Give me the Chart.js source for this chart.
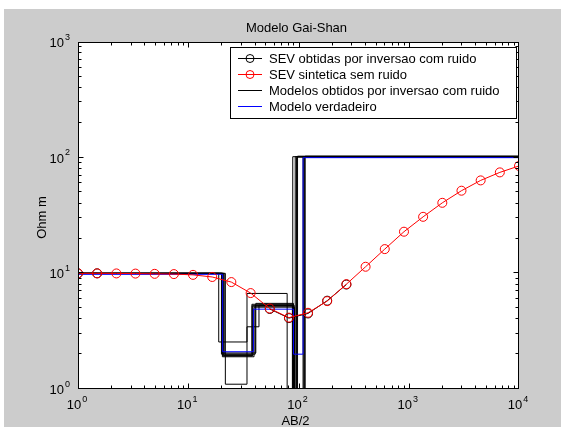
<!DOCTYPE html>
<html>
<head>
<meta charset="utf-8">
<script src="https://cdn.jsdelivr.net/npm/chart.js@4.4.1/dist/chart.umd.min.js"></script>
<style>
  html, body { margin: 0; padding: 0; background: #fff; }
  canvas { display: block; }
</style>
</head>
<body>
<canvas id="grafico" width="564" height="427"></canvas>
<script>
// espaçamentos AB/2 das sondagens
const abDois = [1, 1.49, 2.23, 3.32, 4.96, 7.41, 11.05, 16.5, 24.6, 36.8, 54.9, 81.9,
  122, 182, 272, 406, 606, 905, 1350, 2016, 3008, 4490, 6700, 10000];

// SEV sintetica sem ruido
const sevSintetica = [10.0, 10.0, 9.98, 9.95, 9.9, 9.85, 9.7, 9.3, 8.4, 6.75, 4.96, 4.14,
  4.56, 5.75, 8.06, 11.4, 16.2, 22.9, 30.8, 40.7, 51.8, 63.6, 74.6, 84.8];

// SEV obtidas por inversao com ruido (so alguns pontos visiveis)
const sevRuido = [10.0, 10.0, null, null, null, null, null, null, null, null, 4.92, 4.1,
  4.5, 5.8, 8.0, null, null, null, null, null, null, null, null, null];

// modelo verdadeiro: profundidades das interfaces e resistividades das camadas
const profVerdadeiro = [20.5, 39, 90, 110];
const rhoVerdadeiro = [9.8, 2.1, 4.9, 2.0, 100];

// modelos obtidos por inversao com ruido
const profModelos = [
  [21.7, 34.1, 78.9, 88.7],
  [18.9, 34.1, 43.8, 91, 96],
  [20.0, 37.8, 88, 93.4],
  [20.8, 38.5, 89.5, 98],
  [21.2, 40.5, 91, 110],
  [20.4, 39.5, 92, 113],
  [20.2, 41, 90, 112],
  [20.6, 38, 89, 115]
];
const rhoModelos = [
  [10, 1.1, 6.7, 0.4, 102],
  [10, 2.55, 3.45, 5.3, 0.5, 101],
  [10, 2.0, 5.4, 0.3, 102],
  [10, 1.95, 5.2, 0.5, 103],
  [10, 2.0, 5.3, 0.2, 102],
  [10, 1.9, 5.1, 0.6, 101],
  [10, 2.05, 5.5, 0.35, 102],
  [10, 1.93, 5.25, 0.8, 103]
];

const rotulosLegenda = [
  'SEV obtidas por inversao com ruido',
  'SEV sintetica sem ruido',
  'Modelos obtidos por inversao com ruido',
  'Modelo verdadeiro'
];

const FONTE = '"Liberation Sans", Arial, sans-serif';

function pontosModelo(prof, rho) {
  const pts = [{ x: 1, y: rho[0] }];
  for (let i = 0; i < prof.length; i++) {
    pts.push({ x: prof[i], y: rho[i + 1] });
  }
  pts.push({ x: 10000, y: rho[rho.length - 1] });
  return pts;
}

function pontosSev(valores) {
  return abDois.map((x, i) => ({ x: x, y: valores[i] }));
}

const datasets = [];

// vermelho por cima de tudo
datasets.push({
  label: rotulosLegenda[1],
  data: pontosSev(sevSintetica),
  borderColor: '#ff0000',
  borderWidth: 1,
  pointStyle: 'circle',
  pointRadius: 4.5,
  pointBorderWidth: 1,
  pointBorderColor: '#ff0000',
  pointBackgroundColor: 'rgba(0,0,0,0)',
  order: 0
});

datasets.push({
  label: rotulosLegenda[0],
  data: pontosSev(sevRuido),
  borderColor: '#000000',
  borderWidth: 1,
  pointRadius: 4.5,
  pointBorderWidth: 1,
  pointBorderColor: '#000000',
  pointBackgroundColor: 'rgba(0,0,0,0)',
  spanGaps: false,
  order: 1
});

datasets.push({
  label: rotulosLegenda[3],
  data: pontosModelo(profVerdadeiro, rhoVerdadeiro),
  borderColor: '#0000ff',
  borderWidth: 1,
  pointRadius: 0,
  stepped: 'before',
  order: 2
});

profModelos.forEach((prof, i) => {
  datasets.push({
    label: rotulosLegenda[2],
    data: pontosModelo(prof, rhoModelos[i]),
    borderColor: '#000000',
    borderWidth: 1,
    pointRadius: 0,
    stepped: 'before',
    order: 3
  });
});

function rotuloPotencia(ctx, exp, x, yBase, alinhar) {
  ctx.font = '13px ' + FONTE;
  const wBase = ctx.measureText('10').width;
  ctx.font = '9px ' + FONTE;
  const wExp = ctx.measureText(String(exp)).width;
  const total = wBase + 1 + wExp;
  let x0;
  if (alinhar === 'centro') x0 = x - total / 2 - 1;
  else x0 = x - total;
  ctx.textAlign = 'left';
  ctx.font = '13px ' + FONTE;
  ctx.fillText('10', x0, yBase);
  ctx.font = '9px ' + FONTE;
  ctx.fillText(String(exp), x0 + wBase + 1, yBase - 7.5);
}

const estiloMatlab = {
  id: 'estiloMatlab',
  beforeDraw(chart) {
    const ctx = chart.ctx;
    const a = chart.chartArea;
    ctx.save();
    ctx.fillStyle = '#ffffff';
    ctx.fillRect(0, 0, chart.width, chart.height);
    ctx.fillStyle = '#cccccc';
    ctx.fillRect(4, 9, 557, chart.height - 9);
    ctx.fillStyle = '#ffffff';
    ctx.fillRect(a.left, a.top, a.right - a.left, a.bottom - a.top);
    ctx.restore();
  },
  afterDraw(chart) {
    const ctx = chart.ctx;
    const a = chart.chartArea;
    const xs = chart.scales.x;
    const ys = chart.scales.y;
    const L = a.left + 0.5, R = a.right - 0.5, T = a.top + 0.5, B = a.bottom - 0.5;
    ctx.save();
    ctx.strokeStyle = '#000';
    ctx.lineWidth = 1;
    ctx.strokeRect(L, T, R - L, B - T);

    // ticks para dentro, nos quatro lados
    ctx.beginPath();
    for (let e = 0; e <= 4; e++) {
      for (let m = 1; m <= 9; m++) {
        const v = m * Math.pow(10, e);
        if (v > 10000) break;
        let px = Math.round(xs.getPixelForValue(v)) + 0.5;
        if (px > R) px = R;
        const len = m === 1 ? 5 : 3;
        ctx.moveTo(px, B); ctx.lineTo(px, B - len);
        ctx.moveTo(px, T); ctx.lineTo(px, T + len);
      }
    }
    for (let e = 0; e <= 3; e++) {
      for (let m = 1; m <= 9; m++) {
        const v = m * Math.pow(10, e);
        if (v > 1000) break;
        let py = Math.round(ys.getPixelForValue(v)) - 0.5;
        if (py < T) py = T;
        const len = m === 1 ? 5 : 3;
        ctx.moveTo(L, py); ctx.lineTo(L + len, py);
        ctx.moveTo(R, py); ctx.lineTo(R - len, py);
      }
    }
    ctx.stroke();

    ctx.fillStyle = '#000';
    ctx.textBaseline = 'alphabetic';
    for (let e = 0; e <= 4; e++) {
      const px = xs.getPixelForValue(Math.pow(10, e));
      rotuloPotencia(ctx, e, px, 409, 'centro');
    }
    for (let e = 0; e <= 3; e++) {
      const py = ys.getPixelForValue(Math.pow(10, e));
      rotuloPotencia(ctx, e, 70, py + 5, 'direita');
    }

    // titulo e rotulos dos eixos
    ctx.font = '13px ' + FONTE;
    ctx.textAlign = 'center';
    const cx = (a.left + a.right) / 2;
    ctx.fillText('Modelo Gai-Shan', cx - 2, 32);
    ctx.fillText('AB/2', cx - 3, 425);
    ctx.save();
    ctx.translate(46, (a.top + a.bottom) / 2 + 2);
    ctx.rotate(-Math.PI / 2);
    ctx.fillText('Ohm m', 0, 0);
    ctx.restore();

    // legenda
    const lx = 230.5, ly = 47.5, lw = 286, lh = 71;
    ctx.fillStyle = '#ffffff';
    ctx.fillRect(lx, ly, lw, lh);
    ctx.strokeStyle = '#000';
    ctx.strokeRect(lx, ly, lw, lh);
    const cores = ['#000000', '#ff0000', '#000000', '#0000ff'];
    const comMarcador = [true, true, false, false];
    ctx.textAlign = 'left';
    ctx.font = '13px ' + FONTE;
    for (let i = 0; i < 4; i++) {
      const yc = 58.5 + i * 16;
      ctx.strokeStyle = cores[i];
      ctx.beginPath();
      ctx.moveTo(238, yc); ctx.lineTo(262, yc);
      ctx.stroke();
      if (comMarcador[i]) {
        ctx.beginPath();
        ctx.arc(250, yc, 4, 0, Math.PI * 2);
        ctx.stroke();
      }
      ctx.fillStyle = '#000';
      ctx.fillText(rotulosLegenda[i], 269, yc + 4.5);
    }
    ctx.restore();
  }
};

const ctx = document.getElementById('grafico').getContext('2d');
const chart = new Chart(ctx, {
  type: 'line',
  data: { datasets: datasets },
  options: {
    responsive: false,
    animation: false,
    devicePixelRatio: 1,
    layout: { padding: { left: 78, right: 45, top: 42, bottom: 38 } },
    plugins: {
      legend: { display: false },
      title: { display: false },
      tooltip: { enabled: false }
    },
    scales: {
      x: { type: 'logarithmic', min: 1, max: 10000, display: false },
      y: { type: 'logarithmic', min: 1, max: 1000, display: false }
    }
  },
  plugins: [estiloMatlab]
});
</script>
</body>
</html>
